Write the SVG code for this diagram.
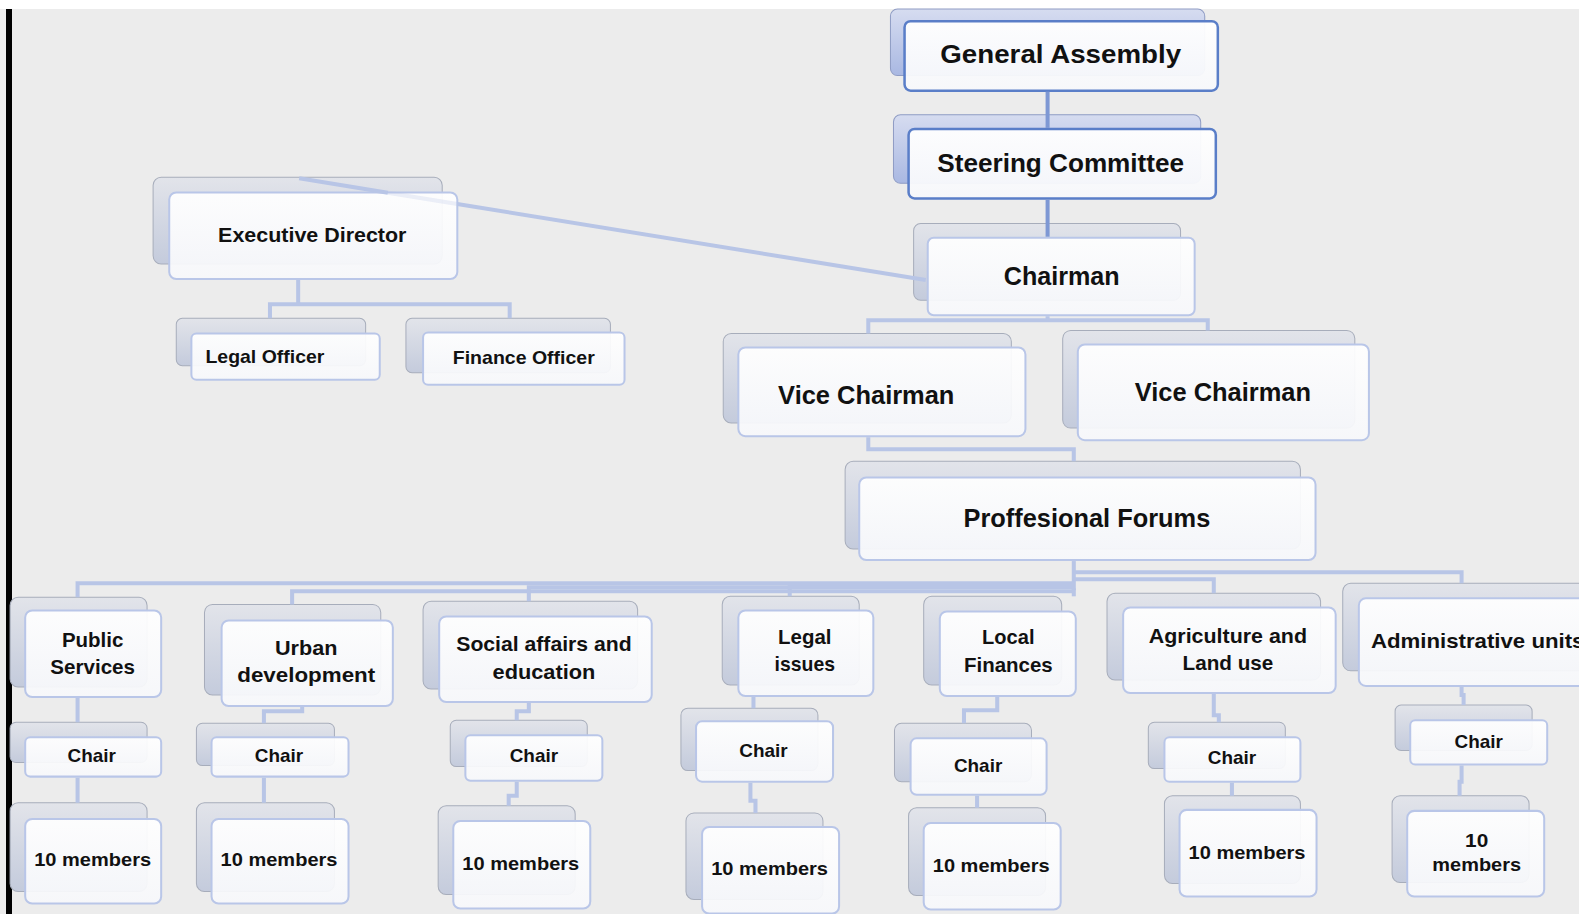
<svg xmlns="http://www.w3.org/2000/svg" width="1579" height="914" viewBox="0 0 1579 914">
<defs>
<linearGradient id="gb" x1="0" y1="0" x2="0" y2="1">
<stop offset="0" stop-color="#e2e4ea"/><stop offset="1" stop-color="#c4cbdc"/>
</linearGradient>
<linearGradient id="gbb" x1="0" y1="0" x2="0" y2="1">
<stop offset="0" stop-color="#d6dcf0"/><stop offset="1" stop-color="#a9b8e2"/>
</linearGradient>
<linearGradient id="gf" x1="0" y1="0" x2="0" y2="1">
<stop offset="0" stop-color="#ffffff"/><stop offset="1" stop-color="#f7f8fb"/>
</linearGradient>
<style>
.bk{fill:url(#gb);stroke:#a7adbb;stroke-width:1}
.bkb{fill:url(#gbb);stroke:#8f9cc4;stroke-width:1}
.fr{fill:url(#gf);fill-opacity:0.93;stroke:#b9c6e8;stroke-width:2}
.frb{fill:url(#gf);fill-opacity:0.95;stroke:#5a7ec8;stroke-width:2.5}
text{font-family:"Liberation Sans",Arial,sans-serif;font-weight:bold;fill:#111;text-anchor:middle;dominant-baseline:central}
.c{fill:none;stroke:#b8c5e6;stroke-width:4}
.cb{fill:none;stroke:#7e98d4;stroke-width:4}
</style>
</defs>
<rect x="0" y="0" width="1579" height="914" fill="#ffffff"/>
<rect x="0" y="9" width="1579" height="905" fill="#ececec"/>
<rect x="6" y="9" width="6" height="905" fill="#000"/>

<g transform="scale(1.0073)">
<g id="n-ga"><rect class="bkb" x="884" y="9" width="312" height="66" rx="7"/><rect class="frb" x="898" y="21" width="311" height="69" rx="6"/><text x="1053" y="54" font-size="26" textLength="239" lengthAdjust="spacingAndGlyphs">General Assembly</text></g>
<g id="n-sc"><rect class="bkb" x="887" y="114" width="305" height="68" rx="7"/><rect class="frb" x="902" y="128" width="305" height="69" rx="6"/><text x="1053" y="162" font-size="25" textLength="245" lengthAdjust="spacingAndGlyphs">Steering Committee</text></g>
<g id="n-ch"><rect class="bk" x="907" y="222" width="265" height="76" rx="7"/><rect class="fr" x="921" y="236" width="265" height="77" rx="6"/><text x="1054" y="274" font-size="25" textLength="115" lengthAdjust="spacingAndGlyphs">Chairman</text></g>
<g id="n-ed"><rect class="bk" x="152" y="176" width="287" height="86" rx="8"/><rect class="fr" x="168" y="191" width="286" height="86" rx="7"/><text x="310" y="233" font-size="20" textLength="187" lengthAdjust="spacingAndGlyphs">Executive Director</text></g>
<g id="n-lo"><rect class="bk" x="175" y="316" width="188" height="47" rx="6"/><rect class="fr" x="190" y="331" width="187" height="46" rx="5"/><text x="263" y="354" font-size="18" textLength="118" lengthAdjust="spacingAndGlyphs">Legal Officer</text></g>
<g id="n-fo"><rect class="bk" x="403" y="316" width="203" height="54" rx="6"/><rect class="fr" x="420" y="330" width="200" height="52" rx="5"/><text x="520" y="355" font-size="18" textLength="141" lengthAdjust="spacingAndGlyphs">Finance Officer</text></g>
<g id="n-vc1"><rect class="bk" x="718" y="331" width="286" height="89" rx="8"/><rect class="fr" x="733" y="345" width="285" height="88" rx="7"/><text x="860" y="392" font-size="25" textLength="175" lengthAdjust="spacingAndGlyphs">Vice Chairman</text></g>
<g id="n-vc2"><rect class="bk" x="1055" y="328" width="290" height="97" rx="8"/><rect class="fr" x="1070" y="342" width="289" height="95" rx="7"/><text x="1214" y="389" font-size="25" textLength="175" lengthAdjust="spacingAndGlyphs">Vice Chairman</text></g>
<g id="n-pf"><rect class="bk" x="839" y="458" width="452" height="87" rx="8"/><rect class="fr" x="853" y="474" width="453" height="82" rx="7"/><text x="1079" y="514" font-size="25" textLength="245" lengthAdjust="spacingAndGlyphs">Proffesional Forums</text></g>

<g id="n-ps"><rect class="bk" x="10" y="593" width="136" height="89" rx="8"/><rect class="fr" x="25" y="606" width="135" height="86" rx="7"/><text x="92" y="635" font-size="20" textLength="61" lengthAdjust="spacingAndGlyphs">Public</text><text x="92" y="662" font-size="20" textLength="84" lengthAdjust="spacingAndGlyphs">Services</text></g>
<g id="n-ud"><rect class="bk" x="203" y="600" width="175" height="90" rx="8"/><rect class="fr" x="220" y="616" width="170" height="85" rx="7"/><text x="304" y="643" font-size="20" textLength="62" lengthAdjust="spacingAndGlyphs">Urban</text><text x="304" y="670" font-size="20" textLength="137" lengthAdjust="spacingAndGlyphs">development</text></g>
<g id="n-sa"><rect class="bk" x="420" y="597" width="213" height="87" rx="8"/><rect class="fr" x="436" y="612" width="211" height="85" rx="7"/><text x="540" y="639" font-size="20" textLength="174" lengthAdjust="spacingAndGlyphs">Social affairs and</text><text x="540" y="667" font-size="20" textLength="102" lengthAdjust="spacingAndGlyphs">education</text></g>
<g id="n-li"><rect class="bk" x="717" y="592" width="136" height="88" rx="8"/><rect class="fr" x="733" y="606" width="134" height="85" rx="7"/><text x="799" y="632" font-size="20" textLength="53" lengthAdjust="spacingAndGlyphs">Legal</text><text x="799" y="659" font-size="20" textLength="60" lengthAdjust="spacingAndGlyphs">issues</text></g>
<g id="n-lf"><rect class="bk" x="917" y="592" width="137" height="88" rx="8"/><rect class="fr" x="933" y="607" width="135" height="84" rx="7"/><text x="1001" y="632" font-size="20" textLength="52" lengthAdjust="spacingAndGlyphs">Local</text><text x="1001" y="660" font-size="20" textLength="88" lengthAdjust="spacingAndGlyphs">Finances</text></g>
<g id="n-ag"><rect class="bk" x="1099" y="589" width="212" height="86" rx="8"/><rect class="fr" x="1115" y="603" width="211" height="85" rx="7"/><text x="1219" y="631" font-size="20" textLength="157" lengthAdjust="spacingAndGlyphs">Agriculture and</text><text x="1219" y="658" font-size="20" textLength="90" lengthAdjust="spacingAndGlyphs">Land use</text></g>
<g id="n-au"><rect class="bk" x="1333" y="579" width="260" height="87" rx="8"/><rect class="fr" x="1349" y="594" width="250" height="87" rx="7"/><text x="1361" y="636" font-size="20" textLength="212" lengthAdjust="spacingAndGlyphs" style="text-anchor:start">Administrative units</text></g>

<g id="n-ch1"><rect class="bk" x="10" y="717" width="136" height="40" rx="6"/><rect class="fr" x="25" y="732" width="135" height="39" rx="5"/><text x="91" y="751" font-size="18" textLength="48" lengthAdjust="spacingAndGlyphs">Chair</text></g>
<g id="n-ch2"><rect class="bk" x="195" y="718" width="137" height="42" rx="6"/><rect class="fr" x="210" y="732" width="136" height="39" rx="5"/><text x="277" y="751" font-size="18" textLength="48" lengthAdjust="spacingAndGlyphs">Chair</text></g>
<g id="n-ch3"><rect class="bk" x="447" y="715" width="136" height="46" rx="6"/><rect class="fr" x="462" y="730" width="136" height="45" rx="5"/><text x="530" y="751" font-size="18" textLength="48" lengthAdjust="spacingAndGlyphs">Chair</text></g>
<g id="n-ch4"><rect class="bk" x="676" y="703" width="136" height="62" rx="7"/><rect class="fr" x="691" y="716" width="136" height="60" rx="6"/><text x="758" y="746" font-size="18" textLength="48" lengthAdjust="spacingAndGlyphs">Chair</text></g>
<g id="n-ch5"><rect class="bk" x="888" y="718" width="136" height="58" rx="7"/><rect class="fr" x="904" y="733" width="135" height="56" rx="6"/><text x="971" y="760" font-size="18" textLength="48" lengthAdjust="spacingAndGlyphs">Chair</text></g>
<g id="n-ch6"><rect class="bk" x="1140" y="717" width="136" height="46" rx="6"/><rect class="fr" x="1156" y="732" width="135" height="44" rx="5"/><text x="1223" y="753" font-size="18" textLength="48" lengthAdjust="spacingAndGlyphs">Chair</text></g>
<g id="n-ch7"><rect class="bk" x="1385" y="700" width="136" height="45" rx="6"/><rect class="fr" x="1400" y="715" width="136" height="44" rx="5"/><text x="1468" y="737" font-size="18" textLength="48" lengthAdjust="spacingAndGlyphs">Chair</text></g>

<g id="n-m1"><rect class="bk" x="10" y="797" width="136" height="88" rx="8"/><rect class="fr" x="25" y="813" width="135" height="84" rx="7"/><text x="92" y="854" font-size="18" textLength="116" lengthAdjust="spacingAndGlyphs">10 members</text></g>
<g id="n-m2"><rect class="bk" x="195" y="797" width="137" height="88" rx="8"/><rect class="fr" x="210" y="813" width="136" height="84" rx="7"/><text x="277" y="854" font-size="18" textLength="116" lengthAdjust="spacingAndGlyphs">10 members</text></g>
<g id="n-m3"><rect class="bk" x="435" y="800" width="136" height="88" rx="8"/><rect class="fr" x="450" y="815" width="136" height="87" rx="7"/><text x="517" y="858" font-size="18" textLength="116" lengthAdjust="spacingAndGlyphs">10 members</text></g>
<g id="n-m4"><rect class="bk" x="681" y="807" width="136" height="86" rx="8"/><rect class="fr" x="697" y="821" width="136" height="86" rx="7"/><text x="764" y="863" font-size="18" textLength="116" lengthAdjust="spacingAndGlyphs">10 members</text></g>
<g id="n-m5"><rect class="bk" x="902" y="802" width="136" height="87" rx="8"/><rect class="fr" x="917" y="817" width="136" height="86" rx="7"/><text x="984" y="860" font-size="18" textLength="116" lengthAdjust="spacingAndGlyphs">10 members</text></g>
<g id="n-m6"><rect class="bk" x="1156" y="790" width="135" height="87" rx="8"/><rect class="fr" x="1171" y="804" width="136" height="86" rx="7"/><text x="1238" y="847" font-size="18" textLength="116" lengthAdjust="spacingAndGlyphs">10 members</text></g>
<g id="n-m7"><rect class="bk" x="1382" y="790" width="136" height="86" rx="8"/><rect class="fr" x="1397" y="805" width="136" height="85" rx="7"/><text x="1466" y="835" font-size="18" textLength="23" lengthAdjust="spacingAndGlyphs">10</text><text x="1466" y="859" font-size="18" textLength="88" lengthAdjust="spacingAndGlyphs">members</text></g>

<g id="connectors">
<path class="cb" d="M1040,91 V127"/>
<path class="cb" d="M1040,198 V235"/>
<path class="c" d="M297,177 L385,191.3"/>
<path class="c" d="M385,191.3 L454,202.5" stroke-opacity="0.25"/>
<path class="c" d="M454,202.5 L919,278"/>
<path class="c" d="M296,278 V302 M268,316 V302 H506 V316"/>
<path class="c" d="M1040,314 V318 M862,331 V318 H1199 V328"/>
<path class="c" d="M862,434 V446 H1066 V458"/>
<path class="c" d="M1066,557 V586"/>
<path class="c" d="M1066,568 H1451 V579"/>
<path class="c" d="M1066,575 H1205 V589"/>
<path class="c" d="M1066,579 H77 V593"/>
<path class="c" d="M1066,587 H290 V600"/>
<path class="c" d="M1066,583 H525 V597"/>
<path class="c" d="M1066,581 H784 V592"/>
<path class="c" d="M1066,584 V592"/>
<path class="c" d="M77,693 V717 M77,772 V797"/>
<path class="c" d="M300,702 V706 H262 V718 M262,772 V797"/>
<path class="c" d="M525,698 V706 H513 V715 M513,776 V790 H505 V800"/>
<path class="c" d="M748,692 V703 M745,777 V795 H750 V807"/>
<path class="c" d="M990,692 V705 H957 V718 M970,790 V802"/>
<path class="c" d="M1205,689 V710 H1210 V717 M1223,777 V790"/>
<path class="c" d="M1451,682 V690 H1453 V700 M1451,760 V776 H1449 V790"/>
</g>
</g>
</svg>
